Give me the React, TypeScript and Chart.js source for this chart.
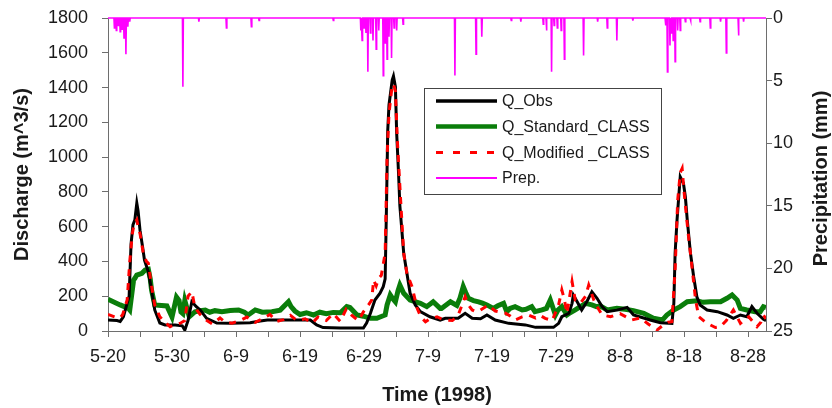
import React, { useEffect, useRef } from 'react';
import { Chart, registerables } from 'chart.js';

Chart.register(...registerables);

// Day offsets from 1998-05-20 (day 0) to 1998-08-31
const xTickDays = [0, 5, 10, 15, 20, 25, 30, 35, 40, 45, 50, 55, 60, 65, 70, 75, 80, 85, 90, 95, 100];
const xTickLabels = ['5-20', '5-30', '6-9', '6-19', '6-29', '7-9', '7-19', '7-29', '8-8', '8-18', '8-28'];

// [day, discharge m^3/s]
const qObs: [number, number][] = [
  [0, 63], [1.4, 60], [1.9, 55], [2.4, 82], [3.0, 160], [3.3, 200], [3.6, 500], [3.9, 610], [4.2, 640],
  [4.5, 735], [4.7, 690], [5.0, 580], [5.4, 485], [5.7, 408], [6.3, 341], [6.8, 236], [7.3, 121], [8.1, 46],
  [8.9, 35], [10.5, 35], [11.6, 30], [12.0, 5], [12.5, 60], [13.1, 168], [13.8, 140], [14.4, 121], [15.4, 73],
  [17.0, 46], [19.1, 45], [22.2, 48], [23.8, 58], [24.9, 63], [28.5, 63], [31.6, 63], [32.6, 35], [33.6, 20],
  [36.3, 17], [39.9, 17], [40.4, 46], [41.0, 102], [41.7, 178], [42.5, 217], [43.0, 255], [43.3, 300],
  [43.5, 700], [43.7, 1150], [43.9, 1300], [44.4, 1443], [44.6, 1466], [44.9, 1405], [45.1, 1138], [45.4, 900],
  [45.6, 720], [46.2, 447], [46.7, 332], [47.2, 217], [48.0, 150], [48.8, 111], [50.3, 82], [51.9, 63],
  [52.7, 73], [54.7, 73], [55.8, 102], [56.9, 73], [58.2, 70], [59.2, 92], [60.5, 63], [62.6, 44], [65.2, 35],
  [66.8, 21], [69.6, 21], [70.4, 44], [70.9, 82], [72.0, 102], [72.5, 159], [72.7, 207], [73.3, 168],
  [74.0, 121], [74.8, 168], [75.6, 226], [76.4, 188], [77.2, 140], [78.0, 111], [79.5, 120], [81.1, 136],
  [82.1, 92], [84.7, 63], [86.3, 48], [88.1, 44], [88.4, 159], [88.6, 447], [88.9, 638], [89.4, 887],
  [89.9, 850], [90.2, 772], [90.5, 638], [91.0, 447], [91.5, 312], [92.0, 197], [92.5, 150], [93.6, 121],
  [95.2, 111], [96.7, 92], [97.7, 73], [98.8, 92], [99.8, 82], [100.6, 140], [101.4, 102], [102.4, 67], [102.8, 60],
];

const qStandard: [number, number][] = [
  [0, 182], [1.9, 150], [3.2, 130], [3.4, 121], [4.0, 293], [4.2, 303], [4.5, 322], [5.3, 332], [5.8, 351],
  [6.3, 355], [6.6, 300], [6.8, 236], [7.3, 150], [9.2, 144], [10.0, 80], [10.7, 195], [11.1, 175], [11.4, 110],
  [11.7, 100], [12.0, 175], [12.7, 82], [13.6, 111], [14.4, 117], [15.2, 120], [15.9, 108], [16.7, 117],
  [17.8, 111], [19.1, 118], [20.4, 121], [21.3, 108], [21.9, 92], [23.0, 121], [24.1, 108], [25.6, 111],
  [26.9, 120], [28.2, 168], [28.6, 140], [29.2, 115], [30.0, 95], [31.0, 105], [32.1, 92], [33.1, 108],
  [34.1, 100], [35.2, 107], [36.3, 105], [37.3, 140], [37.8, 135], [38.9, 92], [39.9, 85], [41.0, 73],
  [42.0, 73], [42.8, 85], [43.3, 92], [43.6, 150], [44.1, 207], [44.4, 190], [44.9, 168], [45.3, 230],
  [45.6, 264], [46.2, 217], [47.2, 178], [48.8, 159], [49.8, 140], [50.8, 168], [51.9, 130], [52.1, 130],
  [53.5, 168], [54.5, 147], [55.0, 190], [55.5, 255], [55.9, 220], [56.3, 188], [57.1, 175], [57.9, 168],
  [58.5, 160], [59.2, 150], [60.2, 130], [60.9, 145], [61.8, 159], [62.3, 111], [62.8, 130], [63.6, 140],
  [64.7, 121], [65.3, 125], [66.2, 140], [66.7, 111], [67.8, 121], [68.5, 130], [69.1, 178], [69.9, 92],
  [70.3, 120], [70.9, 140], [71.7, 92], [72.2, 105], [73.0, 121], [73.8, 140], [74.6, 159], [75.6, 150],
  [76.3, 140], [76.9, 144], [78.0, 121], [79.5, 130], [80.8, 125], [82.1, 117], [83.7, 102], [85.2, 73],
  [86.6, 63], [87.3, 92], [88.4, 121], [89.4, 140], [90.5, 168], [92.0, 174], [93.0, 165], [94.1, 168],
  [95.7, 168], [96.7, 188], [97.5, 207], [98.3, 178], [98.8, 130], [99.8, 121], [101.1, 111], [101.9, 111],
  [102.4, 140], [102.8, 135],
];

const qModified: [number, number][] = [
  [0, 95], [1.1, 80], [1.9, 75], [2.3, 95], [3.0, 180], [3.4, 400], [3.8, 560], [4.1, 620], [4.5, 640],
  [4.7, 600], [5.0, 560], [5.5, 450], [6.0, 400], [6.3, 390], [6.8, 260], [7.3, 150], [8.1, 82], [8.9, 50],
  [9.7, 25], [10.5, 40], [11.3, 45], [12.0, 60], [12.5, 200], [13.1, 226], [13.5, 150], [13.9, 120],
  [14.4, 95], [15.3, 63], [16.3, 40], [17.5, 75], [18.3, 50], [19.4, 45], [20.6, 60], [21.7, 80], [23.0, 50],
  [24.1, 70], [25.3, 95], [26.3, 55], [27.4, 65], [28.5, 90], [29.5, 60], [30.8, 70], [31.9, 45], [32.8, 80],
  [34.1, 60], [35.2, 100], [36.3, 55], [37.2, 125], [38.1, 90], [39.1, 60], [39.9, 110], [40.7, 150],
  [41.2, 178], [41.5, 293], [41.9, 260], [42.3, 303], [42.7, 320], [43.3, 447], [43.6, 1000], [43.9, 1250],
  [44.4, 1415], [44.6, 1420], [44.9, 1380], [45.2, 1100], [45.5, 900], [45.8, 700], [46.2, 447], [46.7, 330],
  [47.5, 255], [48.3, 130], [48.9, 80], [49.6, 53], [50.3, 70], [51.4, 82], [52.1, 70], [52.7, 63],
  [53.8, 60], [54.7, 90], [55.8, 197], [56.3, 150], [56.9, 121], [57.5, 110], [58.2, 120], [59.4, 150],
  [60.5, 115], [62.1, 102], [62.9, 85], [63.6, 63], [64.6, 80], [65.7, 92], [66.8, 75], [67.5, 90],
  [68.3, 73], [69.4, 60], [70.4, 150], [70.9, 236], [71.3, 180], [71.7, 102], [72.5, 284], [73.0, 178],
  [73.8, 159], [74.6, 200], [75.1, 264], [75.9, 178], [76.4, 140], [77.2, 92], [78.5, 82], [80.0, 100],
  [81.8, 63], [83.2, 75], [84.4, 40], [85.8, 6], [86.6, 30], [87.5, 50], [88.1, 53], [88.6, 351], [89.0, 750],
  [89.4, 910], [89.7, 935], [90.0, 800], [90.4, 650], [90.7, 542], [91.2, 380], [91.8, 178], [92.3, 82],
  [93.2, 55], [94.1, 35], [94.9, 20], [95.7, 25], [96.6, 60], [97.7, 121], [98.3, 80], [98.8, 44],
  [99.6, 70], [100.1, 82], [100.6, 60], [101.4, 25], [102.0, 50], [102.4, 90], [102.8, 70],
];

// [day, precipitation mm]
const precipEvents: [number, number][] = [
  [1.0, 0.8], [1.3, 1.0], [1.6, 0.6], [1.9, 1.1], [2.2, 0.9], [2.5, 1.6], [2.8, 2.9], [3.1, 0.7], [3.4, 0.3],
  [11.7, 5.5], [14.2, 0.3], [18.5, 0.8], [22.4, 0.7], [23.6, 0.2], [35.2, 0.2],
  [39.5, 1.0], [39.7, 1.8], [40.0, 0.8], [40.3, 1.2], [40.6, 4.3], [41.0, 1.2], [41.4, 1.8], [41.9, 2.5],
  [42.3, 1.0], [43.0, 4.6], [43.3, 2.0], [43.6, 3.3], [43.9, 1.5], [44.3, 3.2], [44.7, 0.8], [45.1, 1.0],
  [46.1, 0.5], [54.2, 4.6], [57.5, 2.9], [58.4, 1.5], [63.0, 0.2], [64.5, 0.3],
  [68.0, 0.5], [68.5, 1.0], [69.3, 4.3], [69.7, 0.6], [70.2, 0.8], [70.8, 1.0], [71.3, 3.3],
  [74.3, 3.0], [76.5, 0.3], [78.0, 0.8], [79.5, 1.8], [82.0, 0.2],
  [87.1, 0.6], [87.4, 4.3], [87.8, 2.2], [88.0, 1.2], [88.3, 1.8], [88.6, 3.5], [89.0, 1.0], [89.4, 1.0],
  [90.2, 0.3], [91.0, 0.2], [92.5, 0.3], [94.1, 0.8], [95.7, 0.3], [96.6, 2.8], [98.5, 1.4], [99.3, 0.3],
];

const X_MAX = 102.8;

function buildPrecip() {
  const pts: { x: number; y: number }[] = [{ x: 0, y: 0 }];
  const sorted = [...precipEvents].sort((a, b) => a[0] - b[0]);
  for (const [d, mm] of sorted) {
    pts.push({ x: d - 0.07, y: 0 });
    pts.push({ x: d, y: mm });
    pts.push({ x: d + 0.07, y: 0 });
  }
  pts.push({ x: X_MAX, y: 0 });
  return pts;
}

const toXY = (arr: [number, number][]) => arr.map(([x, y]) => ({ x, y }));

const FONT = 'Liberation Sans, Arial, Helvetica, sans-serif';
const TEXT = '#1a1a1a';
const AXIS = '#6e6e6e';

const legendItems = [
  { label: 'Q_Obs', color: '#000000', width: 3.5, dash: [] as number[] },
  { label: 'Q_Standard_CLASS', color: '#0a7d0a', width: 4.5, dash: [] as number[] },
  { label: 'Q_Modified _CLASS', color: '#ff0000', width: 3, dash: [7, 10] },
  { label: 'Prep.', color: '#ff00ff', width: 2, dash: [] as number[] },
];

const overlayPlugin = {
  id: 'overlay',
  afterDraw(chart: any) {
    const { ctx, chartArea: ca } = chart;
    ctx.save();
    // Legend box
    const bx = ca.left + 316;
    const by = ca.top + 70;
    const bw = 237;
    const bh = 106;
    ctx.fillStyle = '#ffffff';
    ctx.fillRect(bx, by, bw, bh);
    ctx.strokeStyle = '#444';
    ctx.lineWidth = 1;
    ctx.strokeRect(bx + 0.5, by + 0.5, bw, bh);
    const rows = [13, 38.5, 64.5, 90];
    legendItems.forEach((it, i) => {
      const y = by + rows[i];
      ctx.beginPath();
      ctx.setLineDash(it.dash);
      ctx.strokeStyle = it.color;
      ctx.lineWidth = it.width;
      ctx.moveTo(bx + 12, y);
      ctx.lineTo(bx + 73, y);
      ctx.stroke();
      ctx.setLineDash([]);
      ctx.fillStyle = TEXT;
      ctx.font = '16px ' + FONT;
      ctx.textAlign = 'left';
      ctx.textBaseline = 'middle';
      ctx.fillText(it.label, bx + 78, y + 1);
    });
    // Right axis title (reads bottom-to-top)
    ctx.translate(821, (ca.top + ca.bottom) / 2 + 4);
    ctx.rotate(-Math.PI / 2);
    ctx.font = 'bold 20px ' + FONT;
    ctx.fillStyle = TEXT;
    ctx.textAlign = 'center';
    ctx.textBaseline = 'middle';
    ctx.fillText('Precipitation (mm)', 0, 0);
    ctx.restore();
  },
};

const noVertPad = (s: any, w: number) => {
  s.width = w;
  s.paddingTop = 0;
  s.paddingBottom = 0;
};

export default function App() {
  const ref = useRef<HTMLCanvasElement | null>(null);

  useEffect(() => {
    if (!ref.current) return;
    Chart.defaults.font.family = FONT;
    const chart = new Chart(ref.current, {
      type: 'line',
      data: {
        datasets: [
          {
            label: 'Q_Modified _CLASS',
            data: toXY(qModified),
            borderColor: '#ff0000',
            borderWidth: 3,
            borderDash: [7, 7],
            pointRadius: 0,
            tension: 0,
            yAxisID: 'y',
            order: 0,
          },
          {
            label: 'Q_Obs',
            data: toXY(qObs),
            borderColor: '#000000',
            borderWidth: 3,
            pointRadius: 0,
            tension: 0,
            yAxisID: 'y',
            order: 1,
          },
          {
            label: 'Q_Standard_CLASS',
            data: toXY(qStandard),
            borderColor: '#0a7d0a',
            borderWidth: 5,
            pointRadius: 0,
            tension: 0,
            yAxisID: 'y',
            order: 2,
          },
          {
            label: 'Prep.',
            data: buildPrecip(),
            borderColor: '#ff00ff',
            borderWidth: 1.6,
            pointRadius: 0,
            tension: 0,
            yAxisID: 'y2',
            order: 3,
            clip: 4,
          } as any,
        ],
      },
      options: {
        animation: false,
        responsive: false,
        parsing: false as any,
        normalized: true,
        events: [],
        layout: { padding: { top: 18, left: 0, right: 0, bottom: 0 } },
        plugins: {
          legend: { display: false },
          tooltip: { enabled: false },
          title: { display: false },
        },
        scales: {
          x: {
            type: 'linear',
            position: 'bottom',
            min: 0,
            max: X_MAX,
            afterFit: (s: any) => {
              s.height = 77;
            },
            afterBuildTicks: (s: any) => {
              s.ticks = xTickDays.map((v) => ({ value: v }));
            },
            ticks: {
              autoSkip: false,
              maxRotation: 0,
              minRotation: 0,
              padding: 9,
              color: TEXT,
              font: { size: 18 },
              callback: (v: any) => {
                const n = Number(v);
                return n % 10 === 0 ? xTickLabels[n / 10] : '';
              },
            },
            grid: { drawOnChartArea: false, drawTicks: true, tickLength: 6, color: AXIS, lineWidth: 1 },
            border: { display: true, color: AXIS, width: 1 },
            title: {
              display: true,
              text: 'Time (1998)',
              color: TEXT,
              font: { size: 20, weight: 'bold' },
              padding: { top: 0, bottom: 1 },
            },
          },
          y: {
            type: 'linear',
            position: 'left',
            min: 0,
            max: 1800,
            afterFit: (s: any) => noVertPad(s, 108),
            ticks: {
              stepSize: 200,
              padding: 14,
              color: TEXT,
              font: { size: 18 },
              callback: (v: any) => String(v),
            },
            grid: { drawOnChartArea: false, drawTicks: true, tickLength: 6, color: AXIS, lineWidth: 1 },
            border: { display: true, color: AXIS, width: 1 },
            title: {
              display: true,
              text: 'Discharge (m^3/s)',
              color: TEXT,
              font: { size: 20, weight: 'bold' },
              padding: { top: 10, bottom: 0 },
            },
          },
          y2: {
            type: 'linear',
            position: 'right',
            min: 0,
            max: 25,
            reverse: true,
            afterFit: (s: any) => noVertPad(s, 66),
            ticks: {
              stepSize: 5,
              padding: 1,
              color: TEXT,
              font: { size: 18 },
              callback: (v: any) => String(v),
            },
            grid: { drawOnChartArea: false, drawTicks: true, tickLength: 6, color: AXIS, lineWidth: 1 },
            border: { display: true, color: AXIS, width: 1 },
            title: { display: false },
          },
        },
      } as any,
      plugins: [overlayPlugin],
    });
    return () => chart.destroy();
  }, []);

  return (
    <div style={{ position: 'fixed', left: 0, top: 0, width: 832, height: 408, background: '#ffffff' }}>
      <canvas ref={ref} width={832} height={408} style={{ display: 'block', width: 832, height: 408 }} />
    </div>
  );
}
